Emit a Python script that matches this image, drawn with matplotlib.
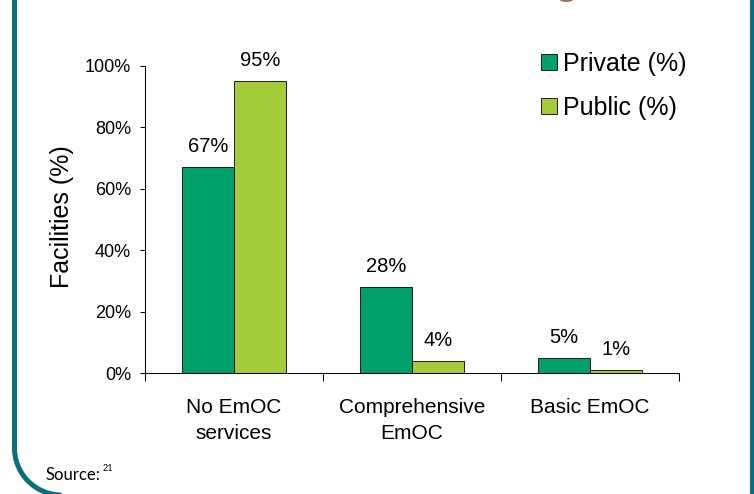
import numpy as np
import matplotlib
matplotlib.use('Agg')
import matplotlib.pyplot as plt
from matplotlib.lines import Line2D

plt.rcParams['font.family'] = ['Liberation Sans', 'DejaVu Sans']

categories = ['No EmOC\nservices', 'Comprehensive\nEmOC', 'Basic EmOC']
private = [67, 28, 5]
public = [95, 4, 1]
series_names = ['Private (%)', 'Public (%)']
yticks = [0, 20, 40, 60, 80, 100]

W, H = 754, 494
fig = plt.figure(figsize=(W / 100, H / 100), dpi=100)

# slide frame, drawn in pixel coordinates
frame = fig.add_axes([0, 0, 1, 1])
frame.set_xlim(0, W)
frame.set_ylim(H, 0)
frame.axis('off')
teal = '#0b6e7d'
cx, cy, r = 61.5, 448, 47
t = np.linspace(0, np.pi / 2, 60)
arc_x = cx - r * np.cos(t)
arc_y = cy + r * np.sin(t)
frame.add_line(Line2D(np.r_[14.5, arc_x], np.r_[0, arc_y], color=teal, lw=3.6,
                      solid_capstyle='butt'))
frame.add_line(Line2D([752, 752], [0, H], color=teal, lw=3.6))

# tail of the cut off slide title
fig.text(566 / W, 1 + 6 / H, 'g', color='#a56b5f', fontsize=28,
         fontweight='bold', ha='center', va='baseline')

ax = fig.add_axes([145 / W, 121 / H, 534 / W, 307 / H])
x = np.arange(len(categories))
bw = 0.29
c_priv = '#00a06a'
c_pub = '#a4cc3a'
b1 = ax.bar(x - bw / 2, private, bw, color=c_priv, edgecolor='black', lw=0.6,
            label=series_names[0])
b2 = ax.bar(x + bw / 2, public, bw, color=c_pub, edgecolor='black', lw=0.6,
            label=series_names[1])

for bars, vals in ((b1, private), (b2, public)):
    for bar, v in zip(bars, vals):
        ax.annotate(f'{v}%', (bar.get_x() + bar.get_width() / 2, v),
                    xytext=(0, 8), textcoords='offset points',
                    ha='center', va='bottom', fontsize=14.5)

ax.set_xlim(-0.5, len(categories) - 0.5)
ax.set_ylim(0, 100)
ax.set_yticks(yticks)
ax.set_yticklabels([f'{v}%' for v in yticks])
ax.tick_params(axis='y', direction='out', length=3.6, width=0.75, pad=6.5,
               labelsize=13)

ax.set_xticks(np.arange(len(categories) + 1) - 0.5)
ax.set_xticklabels([])
ax.tick_params(axis='x', which='major', direction='out', length=5.5, width=0.75)
ax.set_xticks(x, minor=True)
ax.set_xticklabels(categories, minor=True, fontsize=15, linespacing=1.45)
ax.tick_params(axis='x', which='minor', length=0, pad=18)

for s in ('top', 'right'):
    ax.spines[s].set_visible(False)
for s in ('left', 'bottom'):
    ax.spines[s].set_linewidth(0.75)

fig.text(62 / W, 1 - 217 / H, 'Facilities (%)', rotation=90, fontsize=18,
         ha='center', va='center')

ax.legend(loc='upper left', bbox_to_anchor=(541 / W, 1 - 52 / H),
          bbox_transform=fig.transFigure, frameon=False, fontsize=18,
          handlelength=0.64, handleheight=0.64, handletextpad=0.25,
          labelspacing=0.8, borderpad=0, borderaxespad=0)

fig.text(45 / W, 1 - 480 / H, 'Source:', fontsize=12, family='Lato',
         ha='left', va='baseline')
fig.text(103 / W, 1 - 471 / H, '21', fontsize=6.5, family='Lato',
         ha='left', va='baseline')

fig.savefig('out.png', dpi=100)
